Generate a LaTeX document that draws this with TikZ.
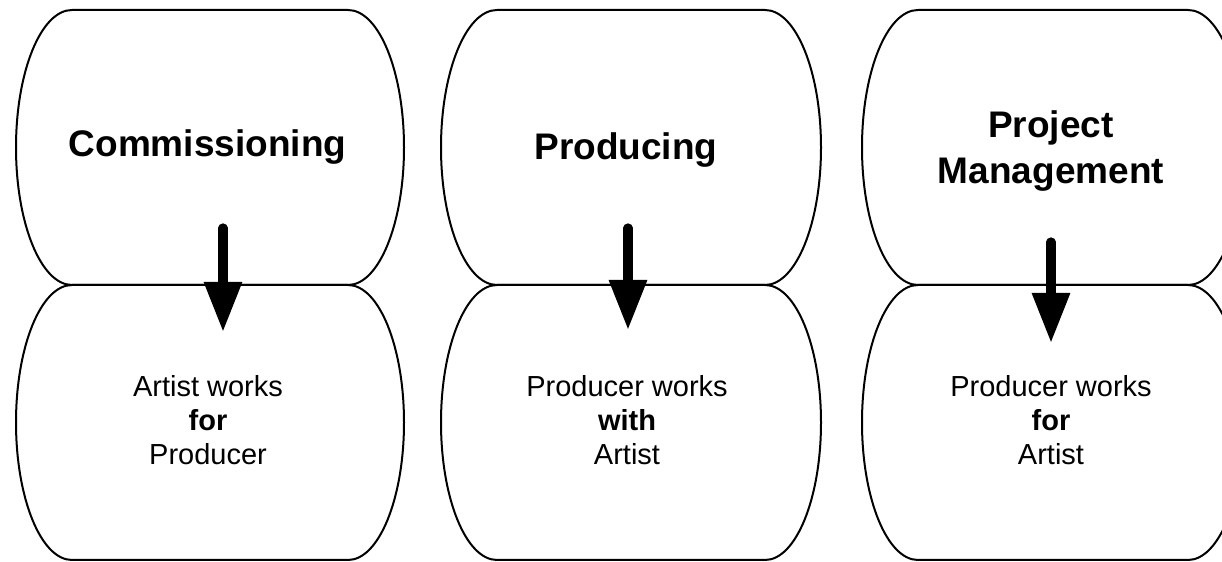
\documentclass[tikz,border=0pt]{standalone}
\usepackage{fontspec}
\setmainfont{Liberation Sans}
\usepackage{tikz}
\usetikzlibrary{arrows.meta}
\usetikzlibrary{calc}
\tikzset{phase/.style 2 args={shape=rectangle, inner sep=0pt, outer sep=0pt, minimum width=#1, minimum height=#2},
    outline/.style={line width=1pt, line join=round},
    title/.style={font=\fontsize{18.5}{23.25}\selectfont\bfseries, align=center, anchor=base},
    note/.style={font=\fontsize{14.5}{17}\selectfont, align=center, anchor=base},
    flow/.style={line width=4.6pt, line cap=round, -{Triangle[length=25pt, width=18pt]}}}
\newcommand{\bulgewidth}{28pt}

\begin{document}
\begin{tikzpicture}[x=0.5pt, y=0.5pt]
    \useasboundingbox (0,0) rectangle (1222,562);
    \clip (0,0) rectangle (1222,562);
    % the six barrels
    \node[phase={138pt}{137.5pt}] (comm-top) at (210,414.5) {};
    \node[phase={138pt}{137.5pt}] (comm-bot) at (210,139.5) {};
    \node[phase={134pt}{137.5pt}] (prod-top) at (631,414.5) {};
    \node[phase={134pt}{137.5pt}] (prod-bot) at (631,139.5) {};
    \node[phase={135pt}{137.5pt}] (pm-top) at (1053,414.5) {};
    \node[phase={135pt}{137.5pt}] (pm-bot) at (1053,139.5) {};
    \foreach \s in {comm-top,comm-bot,prod-top,prod-bot,pm-top,pm-bot}
        \draw[outline] let \p1=(\s.north), \p2=(\s.south), \n1={0.5*(\y1-\y2)} in
            (\s.north west) -- (\s.north east)
            arc[start angle=90, end angle=-90, x radius=\bulgewidth, y radius=\n1]
            -- (\s.south west)
            arc[start angle=270, end angle=90, x radius=\bulgewidth, y radius=\n1] -- cycle;
    % labels (base is the last line)
    \node[title] (comm) at (207.5,405) {Commissioning};
    \node[title] (prod) at (626,402) {Producing};
    \node[title] (pm) at (1051,378) {Project\\Management};
    \node[note] (comm-note) at (208,97) {Artist works\\\textbf{for}\\Producer};
    \node[note] (prod-note) at (627,97) {Producer works\\\textbf{with}\\Artist};
    \node[note] (pm-note) at (1051,97) {Producer works\\\textbf{for}\\Artist};
    % arrows
    \coordinate (comm-from) at (223,334);
    \coordinate (comm-to) at (223,230);
    \coordinate (prod-from) at (628,334);
    \coordinate (prod-to) at (628,232);
    \coordinate (pm-from) at (1051,320);
    \coordinate (pm-to) at (1051,219);
    \draw[flow] (comm-from) -- (comm-to);
    \draw[flow] (prod-from) -- (prod-to);
    \draw[flow] (pm-from) -- (pm-to);
\end{tikzpicture}
\end{document}
